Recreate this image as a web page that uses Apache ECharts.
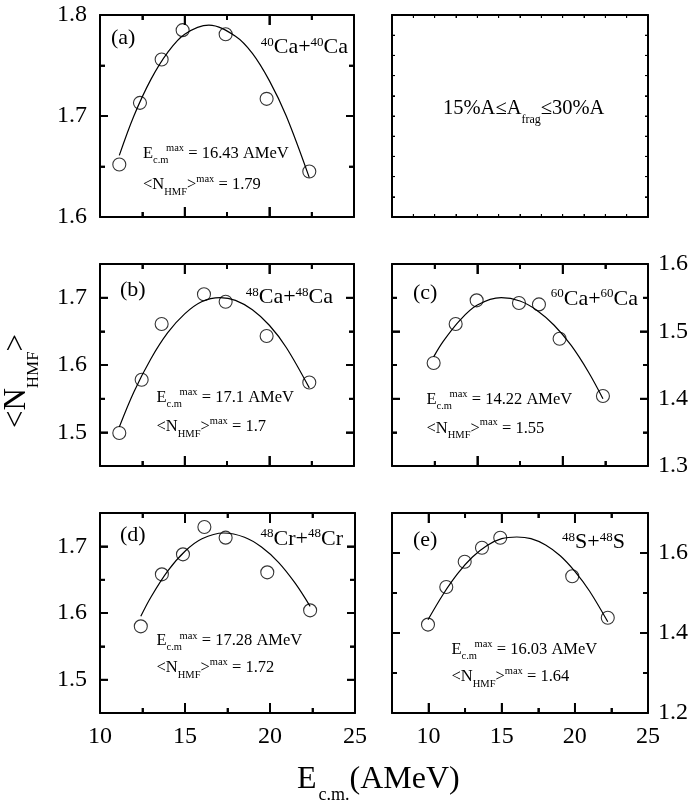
<!DOCTYPE html>
<html>
<head>
<meta charset="utf-8">
<script src="https://cdn.jsdelivr.net/npm/echarts@6/dist/echarts.min.js"></script>
<style>
  html, body { margin: 0; padding: 0; background: #fff; }
  #chart { width: 692px; height: 803px; }
</style>
</head>
<body>
<div id="chart"></div>
<script>
const FONT = '"Liberation Serif", "Times New Roman", serif';

// <N_HMF> (15%A <= A_frag <= 30%A) versus centre-of-mass energy
const energyA = [11.14, 12.36, 13.64, 14.88, 17.42, 19.84, 22.36];
const nhmfA   = [1.652, 1.713, 1.756, 1.785, 1.781, 1.717, 1.645];
const energyB = [11.14, 12.46, 13.64, 16.14, 17.42, 19.84, 22.36];
const nhmfB   = [1.499, 1.578, 1.661, 1.705, 1.694, 1.643, 1.574];
const energyC = [12.44, 13.73, 14.96, 17.44, 18.61, 19.82, 22.36];
const nhmfC   = [1.453, 1.511, 1.546, 1.542, 1.540, 1.489, 1.404];
const energyD = [12.40, 13.64, 14.88, 16.14, 17.39, 19.84, 22.36];
const nhmfD   = [1.580, 1.658, 1.688, 1.729, 1.713, 1.661, 1.604];
const energyE = [9.96, 11.21, 12.47, 13.65, 14.90, 19.82, 22.25];
const nhmfE   = [1.421, 1.515, 1.578, 1.613, 1.638, 1.542, 1.438];

// Fitted curves, [E_c.m., <N_HMF>]
const fitA = [[11.14,1.661],[12,1.700],[13,1.736],[14,1.763],[15,1.781],[16.43,1.79],[18,1.779],[19,1.762],[20,1.735],[21,1.700],[22.36,1.639]];
const fitB = [[11.14,1.508],[12,1.560],[13,1.609],[14,1.648],[15,1.676],[16,1.694],[17.1,1.70],[18,1.696],[19,1.682],[20,1.659],[21,1.626],[22.36,1.566]];
const fitC = [[12.44,1.462],[13,1.485],[14,1.517],[15,1.539],[16.4,1.55],[17.5,1.545],[18.5,1.531],[19.5,1.509],[20.5,1.479],[21.5,1.440],[22.36,1.400]];
const fitD = [[12.40,1.595],[13,1.624],[14,1.6635],[15,1.6927],[16,1.7114],[17.28,1.72],[18.5,1.7137],[19.5,1.699],[20.5,1.676],[21.5,1.644],[22.36,1.610]];
const fitE = [[9.96,1.433],[11,1.497],[12,1.549],[13,1.590],[14,1.619],[15,1.636],[16.03,1.64],[17,1.636],[18,1.620],[19,1.593],[20,1.554],[21,1.505],[22.25,1.428]];

// Fit maxima quoted in the panels
const peakEnergy = [16.43, 17.1, 14.22, 17.28, 16.03];
const peakNhmf   = [1.79, 1.7, 1.55, 1.72, 1.64];

// Panel tags and reaction systems (superscript mass numbers)
const panelTags = ['(a)', '(b)', '(c)', '(d)', '(e)'];
const systems = [['40','Ca+','40','Ca'], ['48','Ca+','48','Ca'], ['60','Ca+','60','Ca'], ['48','Cr+','48','Cr'], ['48','S+','48','S']];

// Tick values
const xMajor = [10, 15, 20, 25];
const xMinor = [12.5, 17.5, 22.5];
const yMajorA = [1.6, 1.7, 1.8];        const yMinorA = [1.65, 1.75];
const yMajorB = [1.5, 1.6, 1.7];        const yMinorB = [1.45, 1.55, 1.65, 1.75];
const yMajorC = [1.3, 1.4, 1.5, 1.6];   const yMinorC = [1.35, 1.45, 1.55];
const yMajorD = [1.5, 1.6, 1.7];        const yMinorD = [1.45, 1.55, 1.65, 1.75];
const yMajorE = [1.2, 1.4, 1.6];        const yMinorE = [1.3, 1.5, 1.7];
const blankTicksX = [1, 2, 3, 4, 5, 6, 7, 8, 9, 10, 11];
const blankTicksY = [1, 2, 3, 4, 5, 6, 7, 8, 9];

// ---------- layout ----------
const panels = [
  { grid: {left: 100, top: 15,  width: 254, height: 202}, xr: [10, 25],  yr: [1.6, 1.8],  ym: yMajorA, yn: yMinorA, ySide: 'left',  xLab: false, e: energyA, n: nhmfA, fit: fitA,
    tag: [111, 46], sys: [348, 55], lab: [143, 159, 190.5] },
  { grid: {left: 100, top: 264, width: 254, height: 202}, xr: [10, 25],  yr: [1.45, 1.75], ym: yMajorB, yn: yMinorB, ySide: 'left',  xLab: false, e: energyB, n: nhmfB, fit: fitB,
    tag: [120, 298], sys: [333, 305], lab: [156.5, 403, 432.5] },
  { grid: {left: 392, top: 264, width: 256, height: 202}, xr: [10, 25],  yr: [1.3, 1.6],  ym: yMajorC, yn: yMinorC, ySide: 'right', xLab: false, e: energyC, n: nhmfC, fit: fitC,
    tag: [413, 301], sys: [638, 306.5], lab: [426.5, 405, 434] },
  { grid: {left: 100, top: 513, width: 255, height: 200}, xr: [10, 25],  yr: [1.45, 1.75], ym: yMajorD, yn: yMinorD, ySide: 'left',  xLab: true,  e: energyD, n: nhmfD, fit: fitD,
    tag: [120, 543], sys: [343, 546.5], lab: [156.5, 646.5, 673.5] },
  { grid: {left: 392, top: 513, width: 256, height: 200}, xr: [7.5, 25], yr: [1.2, 1.7],  ym: yMajorE, yn: yMinorE, ySide: 'right', xLab: true,  e: energyE, n: nhmfE, fit: fitE,
    tag: [413, 548], sys: [625, 550], lab: [451.5, 655, 682.5] }
];
const blankGrid = {left: 392, top: 15, width: 256, height: 202};

const BLACK = '#000';

const grids = [];
const xAxes = [];
const yAxes = [];
const series = [];

// frame edge, long ticks and labels on one axis; short ticks on an overlaid one
function axisPair(list, g, pos, range, major, minor, showLabels, longLen, shortLen, margin, tickWidth) {
  const base = () => ({type: 'value', gridIndex: g, position: pos, min: range[0], max: range[1],
                       splitLine: {show: false}});
  const main = base();
  main.axisLine = {show: true, onZero: false, lineStyle: {color: BLACK, width: 2}};
  main.axisTick = {show: true, inside: true, length: longLen, customValues: major.slice(), lineStyle: {color: BLACK, width: tickWidth}};
  main.axisLabel = {show: showLabels, customValues: major.slice(), margin: margin,
                    color: BLACK, fontFamily: FONT, fontSize: 24};
  list.push(main);
  const mainIndex = list.length - 1;
  if (minor) {
    const sub = base();
    sub.axisLine = {show: false, onZero: false};
    sub.axisTick = {show: true, inside: true, length: shortLen, customValues: minor.slice(), lineStyle: {color: BLACK, width: tickWidth}};
    sub.axisLabel = {show: false};
    list.push(sub);
  }
  return mainIndex;
}

// inward tick marks on all four sides, placed through the panel's own axes
// data item: [value, 0 = x tick / 1 = y tick, length(px), width(px)]
function tickSeries(xi, yi, xr, yr, items) {
  return {
    type: 'custom', xAxisIndex: xi, yAxisIndex: yi, silent: true, z: 10, clip: false,
    data: items,
    renderItem: function (params, api) {
      const v = api.value(0), kind = api.value(1), len = api.value(2), w = api.value(3);
      const style = {stroke: BLACK, lineWidth: w};
      if (kind === 0) {
        const b = api.coord([v, yr[0]]), t = api.coord([v, yr[1]]);
        return {type: 'group', children: [
          {type: 'line', shape: {x1: b[0], y1: b[1], x2: b[0], y2: b[1] - len}, style: style},
          {type: 'line', shape: {x1: t[0], y1: t[1], x2: t[0], y2: t[1] + len}, style: style}
        ]};
      }
      const l = api.coord([xr[0], v]), r = api.coord([xr[1], v]);
      return {type: 'group', children: [
        {type: 'line', shape: {x1: l[0], y1: l[1], x2: l[0] + len, y2: l[1]}, style: style},
        {type: 'line', shape: {x1: r[0], y1: r[1], x2: r[0] - len, y2: r[1]}, style: style}
      ]};
    }
  };
}

panels.forEach((p, i) => {
  const g = grids.length;
  grids.push(Object.assign({}, p.grid));
  const xi = axisPair(xAxes, g, 'bottom', p.xr, xMajor, xMinor, p.xLab, 10, 5, 12, 1.8);
  axisPair(xAxes, g, 'top', p.xr, xMajor, xMinor, false, 10, 5, 8, 1.8);
  const yl = axisPair(yAxes, g, 'left', p.yr, p.ym, p.yn, p.ySide === 'left', 8, 5, 13, 1.8);
  axisPair(yAxes, g, 'right', p.yr, p.ym, p.yn, p.ySide === 'right', 8, 5, 10, 1.8);

  const ticks = []
    .concat(xMajor.filter(v => v > p.xr[0] && v < p.xr[1]).map(v => [v, 0, 10, 1.8]))
    .concat(xMinor.map(v => [v, 0, 5, 1.8]))
    .concat(p.ym.filter(v => v > p.yr[0] && v < p.yr[1]).map(v => [v, 1, 8, 1.8]))
    .concat(p.yn.filter(v => v > p.yr[0] && v < p.yr[1]).map(v => [v, 1, 5, 1.8]));
  series.push(tickSeries(xi, yl, p.xr, p.yr, ticks));

  series.push({
    type: 'line', xAxisIndex: xi, yAxisIndex: yl, data: p.fit, smooth: 0.35,
    showSymbol: false, lineStyle: {color: BLACK, width: 1.2}
  });
  series.push({
    type: 'scatter', xAxisIndex: xi, yAxisIndex: yl,
    data: p.e.map((v, k) => [v, p.n[k]]),
    symbol: 'circle', symbolSize: 13,
    itemStyle: {color: 'rgba(255,255,255,0)', borderColor: BLACK, borderWidth: 1.1}
  });
});

// empty frame carrying the fragment-size window
{
  const g = grids.length;
  grids.push(Object.assign({}, blankGrid));
  const bx = axisPair(xAxes, g, 'bottom', [0, 12], blankTicksX, null, false, 3, 0, 8, 1);
  axisPair(xAxes, g, 'top', [0, 12], blankTicksX, null, false, 3, 0, 8, 1);
  const by = axisPair(yAxes, g, 'left', [0, 10], blankTicksY, null, false, 3, 0, 8, 1);
  axisPair(yAxes, g, 'right', [0, 10], blankTicksY, null, false, 3, 0, 8, 1);
  const ticks = blankTicksX.map(v => [v, 0, 3, 1]).concat(blankTicksY.map(v => [v, 1, 3, 1]));
  series.push(tickSeries(bx, by, [0, 12], [0, 10], ticks));
}

// ---------- text runs with sub/superscripts ----------
const measureCtx = document.createElement('canvas').getContext('2d');
function textWidth(t, size) {
  measureCtx.font = size + 'px ' + FONT;
  return measureCtx.measureText(t).width;
}
// pieces: [text, fontSize, baselineShift, extraGap]
function textRun(pieces, x, baseline, align) {
  const widths = pieces.map(p => textWidth(p[0], p[1]) + (p[3] || 0));
  const total = widths.reduce((s, w) => s + w, 0);
  let cx = align === 'right' ? x - total : align === 'center' ? x - total / 2 : x;
  return pieces.map((p, k) => {
    cx += (p[3] || 0);
    const el = {
      type: 'text', x: cx, y: baseline + (p[2] || 0) - 0.34 * p[1],
      style: {text: p[0], font: p[1] + 'px ' + FONT, fill: BLACK, align: 'left', verticalAlign: 'middle'}
    };
    cx += widths[k] - (p[3] || 0);
    return el;
  });
}

const graphics = [];
const MAIN = 16.5, SMALL = 10.5;
panels.forEach((p, i) => {
  graphics.push(...textRun([[panelTags[i], 22, 0]], p.tag[0], p.tag[1], 'left'));
  const s = systems[i];
  graphics.push(...textRun([[s[0], 13, -8.5], [s[1], 22, 0], [s[2], 13, -8.5], [s[3], 22, 0]], p.sys[0], p.sys[1], 'right'));
  graphics.push(...textRun([['E', MAIN, 0], ['c.m', SMALL, 4.5], ['max', SMALL, -7, -2.5], [' = ' + peakEnergy[i] + ' AMeV', MAIN, 0]],
                           p.lab[0], p.lab[1], 'left'));
  graphics.push(...textRun([['<N', MAIN, 0], ['HMF', SMALL, 5], ['>', MAIN, 0], ['max', SMALL, -8], [' = ' + peakNhmf[i], MAIN, 0]],
                           p.lab[0], p.lab[2], 'left'));
});

// fragment-size window
graphics.push(...textRun([['15%A\u2264A', 20.5, 0], ['frag', 12, 7.5], ['\u226430%A', 20.5, 0]], 443, 116, 'left'));

// axis titles
graphics.push(...textRun([['E', 32, 0], ['c.m.', 18, 11, 2], ['(AMeV)', 32, 0]], 297, 790, 'left'));
graphics.push({
  type: 'group', x: 27, y: 381, rotation: Math.PI / 2,
  children: textRun([['<N', 31, 0], ['HMF', 17, 12], ['>', 31, 0]], 0, 0, 'center')
});

const chart = echarts.init(document.getElementById('chart'), null, {renderer: 'canvas'});
chart.setOption({
  animation: false,
  backgroundColor: '#fff',
  grid: grids,
  xAxis: xAxes,
  yAxis: yAxes,
  series: series,
  graphic: graphics
});
</script>
</body>
</html>
